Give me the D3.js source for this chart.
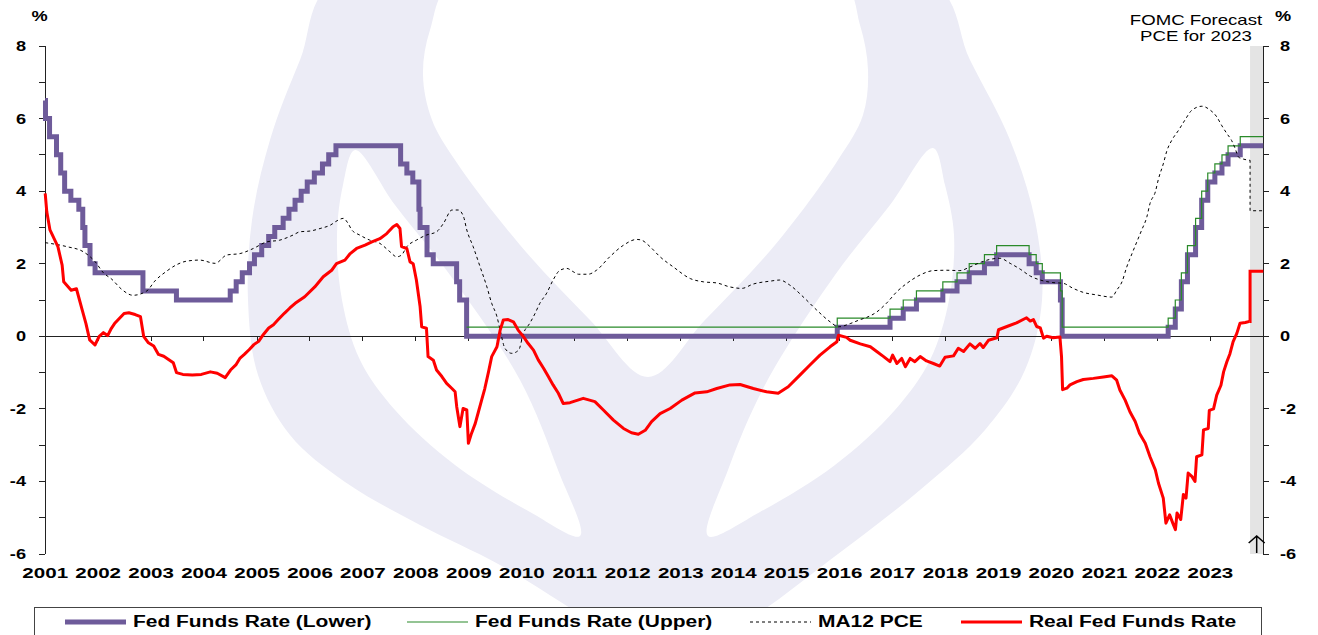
<!DOCTYPE html>
<html>
<head>
<meta charset="utf-8">
<script src="https://cdn.jsdelivr.net/npm/d3@7"></script>
<style>
  body { margin: 0; background: #fff; }
  svg { display: block; }
  text { font-family: "Liberation Sans", Arial, sans-serif; fill: #000; }
</style>
</head>
<body>
<script>
// ---- data ----
var yearLabels = d3.range(2001, 2024);
var yTickLabels = [8, 6, 4, 2, 0, -2, -4, -6];
var seriesNames = ['Fed Funds Rate (Lower)', 'Fed Funds Rate (Upper)', 'MA12 PCE', 'Real Fed Funds Rate'];

// FOMC target changes (lower bound / single target before Dec 2008)
var fedDates = ['2001-01-01','2001-01-03','2001-01-31','2001-03-20','2001-04-18','2001-05-15','2001-06-27','2001-08-21','2001-09-17','2001-10-02','2001-11-06','2001-12-11',
  '2002-11-06','2003-06-25','2004-06-30','2004-08-10','2004-09-21','2004-11-10','2004-12-14',
  '2005-02-02','2005-03-22','2005-05-03','2005-06-30','2005-08-09','2005-09-20','2005-11-01','2005-12-13',
  '2006-01-31','2006-03-28','2006-05-10','2006-06-29','2007-09-18','2007-10-31','2007-12-11',
  '2008-01-22','2008-01-30','2008-03-18','2008-04-30','2008-10-08','2008-10-29','2008-12-16',
  '2015-12-16','2016-12-14','2017-03-15','2017-06-14','2017-12-13','2018-03-21','2018-06-13','2018-09-26','2018-12-19',
  '2019-07-31','2019-09-18','2019-10-30','2020-03-03','2020-03-15',
  '2022-03-16','2022-05-04','2022-06-15','2022-07-27','2022-09-21','2022-11-02','2022-12-14',
  '2023-02-01','2023-03-22','2023-05-03','2023-07-26','2024-01-01'];
var fedLower = [6.5,6.0,5.5,5.0,4.5,4.0,3.75,3.5,3.0,2.5,2.0,1.75,
  1.25,1.0,1.25,1.5,1.75,2.0,2.25,
  2.5,2.75,3.0,3.25,3.5,3.75,4.0,4.25,
  4.5,4.75,5.0,5.25,4.75,4.5,4.25,
  3.5,3.0,2.25,2.0,1.5,1.0,0,
  0.25,0.5,0.75,1.0,1.25,1.5,1.75,2.0,2.25,
  2.0,1.75,1.5,1.0,0,
  0.25,0.75,1.5,2.25,3.0,3.75,4.25,
  4.5,4.75,5.0,5.25,5.25];

var upperDates = ['2008-12-16','2015-12-16','2016-12-14','2017-03-15','2017-06-14','2017-12-13','2018-03-21','2018-06-13','2018-09-26','2018-12-19',
  '2019-07-31','2019-09-18','2019-10-30','2020-03-03','2020-03-15',
  '2022-03-16','2022-05-04','2022-06-15','2022-07-27','2022-09-21','2022-11-02','2022-12-14',
  '2023-02-01','2023-03-22','2023-05-03','2023-07-26','2024-01-01'];
var fedUpper = [0.25,0.5,0.75,1.0,1.25,1.5,1.75,2.0,2.25,2.5,
  2.25,2.0,1.75,1.25,0.25,
  0.5,1.0,1.75,2.5,3.25,4.0,4.5,
  4.75,5.0,5.25,5.5,5.5];

// MA12 PCE, [decimal year, %]
var pce = [[2001.00,2.58],[2001.41,2.47],[2001.72,2.33],[2001.94,2.06],[2002.10,1.75],[2002.26,1.57],[2002.44,1.30],[2002.66,1.13],
  [2002.92,1.25],[2003.07,1.52],[2003.29,1.79],[2003.48,1.97],[2003.67,2.07],[2003.92,2.10],[2004.21,2.01],[2004.43,2.24],
  [2004.68,2.28],[2004.93,2.42],[2005.18,2.60],[2005.43,2.65],[2005.68,2.79],[2005.81,2.88],[2006.00,2.90],[2006.19,2.97],
  [2006.38,3.06],[2006.53,3.20],[2006.63,3.25],[2006.72,3.11],[2006.79,2.93],[2006.94,2.79],[2007.13,2.65],[2007.32,2.56],
  [2007.51,2.33],[2007.64,2.19],[2007.73,2.24],[2007.83,2.47],[2008.01,2.65],[2008.20,2.79],[2008.39,2.88],[2008.52,3.11],
  [2008.68,3.48],[2008.80,3.48],[2008.90,3.29],[2008.96,2.93],[2009.08,2.47],[2009.21,1.92],[2009.34,1.36],[2009.43,0.91],
  [2009.53,0.54],[2009.59,0.17],[2009.68,-0.33],[2009.81,-0.47],[2009.94,-0.38],[2010.03,0.08],[2010.15,0.36],[2010.25,0.63],
  [2010.34,0.91],[2010.47,1.19],[2010.59,1.55],[2010.72,1.82],[2010.85,1.87],[2010.97,1.78],[2011.07,1.71],[2011.25,1.71],
  [2011.41,1.82],[2011.66,2.19],[2011.92,2.51],[2012.17,2.67],[2012.26,2.65],[2012.42,2.47],[2012.61,2.19],[2012.86,1.91],
  [2013.18,1.59],[2013.43,1.50],[2013.68,1.47],[2013.93,1.36],[2014.15,1.32],[2014.37,1.44],[2014.69,1.52],[2014.87,1.55],
  [2015.06,1.41],[2015.31,1.09],[2015.57,0.72],[2015.82,0.40],[2015.98,0.26],[2016.20,0.35],[2016.39,0.46],[2016.51,0.52],
  [2016.70,0.67],[2016.89,0.92],[2017.08,1.23],[2017.27,1.46],[2017.52,1.69],[2017.77,1.81],[2018.02,1.82],[2018.27,1.81],
  [2018.46,1.91],[2018.65,2.03],[2018.84,2.12],[2019.03,2.15],[2019.22,2.01],[2019.41,1.85],[2019.60,1.66],[2019.79,1.55],
  [2020.03,1.48],[2020.22,1.46],[2020.41,1.32],[2020.60,1.21],[2020.85,1.14],[2021.14,1.08],[2021.23,1.27],[2021.33,1.50],
  [2021.42,1.91],[2021.52,2.28],[2021.61,2.60],[2021.70,2.92],[2021.80,3.29],[2021.86,3.66],[2021.96,3.98],[2022.02,4.34],
  [2022.11,4.75],[2022.18,5.12],[2022.27,5.40],[2022.40,5.68],[2022.52,5.96],[2022.65,6.23],[2022.84,6.34],[2023.00,6.23],
  [2023.12,6.05],[2023.21,5.82],[2023.31,5.59],[2023.40,5.40],[2023.47,5.17],[2023.53,4.94],[2023.59,4.90],[2023.74,4.85]];
var pceForecast = [[2023.75,3.46],[2024.00,3.46]];

// Real Fed Funds Rate, [decimal year, %]
var realRate = [[2001.00,3.94],[2001.03,3.43],[2001.09,2.93],[2001.24,2.47],[2001.32,1.96],[2001.35,1.50],[2001.49,1.27],[2001.59,1.31],
  [2001.70,0.72],[2001.77,0.35],[2001.84,-0.10],[2001.94,-0.24],[2002.02,0.00],[2002.10,0.10],[2002.18,0.02],[2002.25,0.22],
  [2002.31,0.35],[2002.40,0.49],[2002.49,0.63],[2002.58,0.65],[2002.70,0.60],[2002.80,0.54],[2002.86,0.00],[2002.95,-0.18],
  [2003.05,-0.27],[2003.14,-0.50],[2003.24,-0.55],[2003.33,-0.64],[2003.42,-0.73],[2003.48,-1.00],[2003.60,-1.05],[2003.78,-1.07],
  [2003.95,-1.05],[2004.12,-0.98],[2004.25,-1.02],[2004.40,-1.14],[2004.50,-0.93],[2004.60,-0.79],[2004.68,-0.60],[2004.76,-0.50],
  [2004.85,-0.37],[2004.94,-0.23],[2005.03,-0.14],[2005.12,0.05],[2005.22,0.23],[2005.31,0.32],[2005.40,0.46],[2005.52,0.64],
  [2005.62,0.78],[2005.72,0.91],[2005.90,1.09],[2006.09,1.36],[2006.25,1.64],[2006.41,1.82],[2006.50,2.00],[2006.66,2.10],
  [2006.76,2.28],[2006.88,2.42],[2007.04,2.51],[2007.17,2.60],[2007.32,2.69],[2007.45,2.83],[2007.57,3.02],[2007.64,3.08],
  [2007.70,2.97],[2007.73,2.47],[2007.83,2.42],[2007.89,2.05],[2007.95,2.00],[2008.01,1.55],[2008.08,0.82],[2008.11,0.26],
  [2008.20,0.22],[2008.23,-0.56],[2008.33,-0.66],[2008.39,-0.93],[2008.49,-1.11],[2008.58,-1.30],[2008.68,-1.44],[2008.74,-1.53],
  [2008.77,-1.94],[2008.83,-2.49],[2008.89,-1.99],[2008.96,-2.03],[2008.99,-2.95],[2009.05,-2.67],[2009.12,-2.40],[2009.18,-2.08],
  [2009.24,-1.76],[2009.30,-1.44],[2009.37,-0.98],[2009.43,-0.56],[2009.53,-0.29],[2009.59,0.17],[2009.65,0.45],[2009.74,0.46],
  [2009.84,0.40],[2009.93,0.17],[2010.03,-0.01],[2010.12,-0.20],[2010.22,-0.38],[2010.31,-0.65],[2010.41,-0.88],[2010.50,-1.11],
  [2010.59,-1.34],[2010.69,-1.57],[2010.78,-1.85],[2010.91,-1.83],[2011.16,-1.71],[2011.38,-1.80],[2011.54,-2.03],[2011.73,-2.31],
  [2011.92,-2.54],[2012.07,-2.66],[2012.20,-2.70],[2012.33,-2.59],[2012.45,-2.35],[2012.61,-2.13],[2012.80,-1.99],[2013.02,-1.76],
  [2013.27,-1.56],[2013.49,-1.53],[2013.68,-1.44],[2013.93,-1.34],[2014.12,-1.33],[2014.37,-1.44],[2014.62,-1.53],[2014.84,-1.57],
  [2015.03,-1.39],[2015.25,-1.07],[2015.44,-0.79],[2015.63,-0.52],[2015.82,-0.29],[2015.95,-0.15],[2015.98,0.03],[2016.13,-0.03],
  [2016.20,-0.11],[2016.39,-0.21],[2016.58,-0.29],[2016.70,-0.42],[2016.83,-0.56],[2016.95,-0.70],[2017.00,-0.52],[2017.08,-0.75],
  [2017.17,-0.61],[2017.24,-0.84],[2017.33,-0.61],[2017.42,-0.70],[2017.52,-0.56],[2017.64,-0.68],[2017.77,-0.75],[2017.89,-0.82],
  [2017.99,-0.58],[2018.15,-0.54],[2018.24,-0.33],[2018.34,-0.42],[2018.46,-0.21],[2018.56,-0.33],[2018.65,-0.20],[2018.71,-0.31],
  [2018.81,-0.11],[2018.97,-0.04],[2019.00,0.18],[2019.16,0.27],[2019.34,0.37],[2019.53,0.51],[2019.60,0.42],[2019.66,0.46],
  [2019.72,0.27],[2019.79,0.23],[2019.85,-0.05],[2019.91,0.00],[2020.03,-0.04],[2020.16,-0.02],[2020.19,-0.56],[2020.21,-1.47],
  [2020.29,-1.43],[2020.35,-1.34],[2020.48,-1.25],[2020.60,-1.19],[2020.79,-1.16],[2020.98,-1.12],[2021.14,-1.09],[2021.23,-1.21],
  [2021.29,-1.48],[2021.39,-1.76],[2021.48,-2.08],[2021.58,-2.35],[2021.66,-2.67],[2021.77,-2.95],[2021.86,-3.32],[2021.96,-3.68],
  [2022.02,-4.05],[2022.11,-4.46],[2022.16,-5.15],[2022.23,-4.92],[2022.29,-5.15],[2022.34,-5.33],[2022.37,-4.87],[2022.44,-5.05],
  [2022.49,-4.36],[2022.54,-4.46],[2022.58,-3.77],[2022.65,-3.86],[2022.71,-4.00],[2022.74,-3.32],[2022.84,-3.27],[2022.87,-2.58],
  [2022.96,-2.54],[2022.98,-2.04],[2023.06,-2.00],[2023.12,-1.62],[2023.20,-1.35],[2023.25,-0.98],[2023.31,-0.71],[2023.37,-0.48],
  [2023.43,-0.15],[2023.50,0.08],[2023.56,0.36],[2023.66,0.38],[2023.74,0.41]];
var realForecast = [[2023.75,1.79],[2024.00,1.79]];

var forecastStart = 2023.75;

// ---- layout ----
var width = 1318, height = 635;
var parseDate = d3.timeParse('%Y-%m-%d');

var yearToDate = function(y) {
  var yr = Math.floor(y);
  var start = new Date(yr, 0, 1), end = new Date(yr + 1, 0, 1);
  return new Date(+start + (y - yr) * (end - start));
};

var x = d3.scaleTime()
  .domain([new Date(2001, 0, 1), new Date(2024, 0, 1)])
  .range([45.2, 1263.3]);
var y = d3.scaleLinear().domain([-6, 8]).range([554, 46]);

var svg = d3.select('body').append('svg')
  .attr('width', width)
  .attr('height', height);

// stretched text, the source picture was widened
var addText = function(parent, tx, ty, str, size, weight, anchor, sx) {
  return parent.append('text')
    .attr('transform', 'translate(' + tx + ',' + ty + ') scale(' + sx + ',1)')
    .attr('text-anchor', anchor)
    .style('font-size', size + 'px')
    .style('font-weight', weight)
    .text(str);
};

// ---- watermark logo ----
var wm = svg.append('g');
var blob = d3.line().curve(d3.curveCatmullRomClosed.alpha(0.5));
wm.append('path')
  .attr('d', blob([[336,-20],[300,60],[270,140],[252,220],[248,300],[258,375],[290,435],[345,482],[420,525],[500,565],
    [590,620],[660,660],[740,625],[830,560],[920,490],[985,430],[1025,370],[1042,300],[1035,220],[1010,140],[970,60],[930,-20]]))
  .style('fill', '#ececf6');
wm.append('path')
  .attr('d', blob([[455,-20],[430,30],[423,75],[432,120],[455,160],[520,245],[590,320],[648,377],[705,320],[775,245],
    [838,160],[863,115],[868,70],[860,25],[840,-20]]))
  .style('fill', '#fff');
wm.append('path')
  .attr('d', blob([[355,150],[395,205],[450,275],[520,380],[558,470],[580,536],[530,512],[455,465],[395,410],[360,360],
    [342,300],[337,235],[343,185]]))
  .style('fill', '#fff');
wm.append('path')
  .attr('d', blob([[933,148],[945,185],[954,235],[949,300],[930,360],[895,410],[835,465],[760,512],[708,536],[728,470],
    [765,385],[835,275],[890,205]]))
  .style('fill', '#fff');

// ---- forecast band ----
svg.append('rect')
  .attr('x', x(yearToDate(forecastStart)))
  .attr('y', y(8))
  .attr('width', x(new Date(2024, 0, 1)) - x(yearToDate(forecastStart)))
  .attr('height', y(-6) - y(8))
  .style('fill', '#e4e4e4');

// ---- axes ----
var x0 = x.range()[0], x1 = x.range()[1];
var axes = svg.append('g').style('stroke', '#222').style('stroke-width', 1).style('shape-rendering', 'crispEdges');
axes.append('line').attr('x1', x0).attr('x2', x0).attr('y1', y(8)).attr('y2', y(-6));
axes.append('line').attr('x1', x1).attr('x2', x1).attr('y1', y(8)).attr('y2', y(-6));
axes.append('line').attr('x1', x0).attr('x2', x1).attr('y1', y(0)).attr('y2', y(0));
d3.range(-6, 9).forEach(function(v) {
  axes.append('line').attr('x1', x0 - 6).attr('x2', x0).attr('y1', y(v)).attr('y2', y(v));
  axes.append('line').attr('x1', x1).attr('x2', x1 + 6).attr('y1', y(v)).attr('y2', y(v));
});
yearLabels.forEach(function(yr) {
  var px = x(new Date(yr, 0, 1));
  axes.append('line').attr('x1', px).attr('x2', px).attr('y1', y(0)).attr('y2', y(0) + 5);
});

yTickLabels.forEach(function(v) {
  addText(svg, 26, y(v) + 5, v, 14, 'bold', 'end', 1.3);
  addText(svg, 1280, y(v) + 5, v, 14, 'bold', 'start', 1.3);
});
addText(svg, 39.5, 21, '%', 14, 'bold', 'middle', 1.3);
addText(svg, 1283, 21, '%', 14, 'bold', 'middle', 1.3);
yearLabels.forEach(function(yr) {
  addText(svg, x(new Date(yr, 0, 1)), 578, yr, 15, 'bold', 'middle', 1.37);
});
addText(svg, 1196, 25, 'FOMC Forecast', 14, 'normal', 'middle', 1.33);
addText(svg, 1196, 40.5, 'PCE for 2023', 14, 'normal', 'middle', 1.33);

// ---- series ----
var stepLine = d3.line()
  .x(function(d) { return x(d[0]); })
  .y(function(d) { return y(d[1]); })
  .curve(d3.curveStepAfter);
var yearLine = d3.line()
  .x(function(d) { return x(yearToDate(d[0])); })
  .y(function(d) { return y(d[1]); });

var lowerData = fedDates.map(function(d, i) { return [parseDate(d), fedLower[i]]; });
var upperData = upperDates.map(function(d, i) { return [parseDate(d), fedUpper[i]]; });

svg.append('path')
  .attr('d', stepLine(lowerData))
  .style('fill', 'none')
  .style('stroke', '#6e5b9a')
  .style('stroke-width', 5);

svg.append('path')
  .attr('d', stepLine(upperData))
  .style('fill', 'none')
  .style('stroke', '#2a8a2a')
  .style('stroke-width', 1.2);

svg.append('path')
  .attr('d', yearLine.curve(d3.curveMonotoneX)(pce))
  .style('fill', 'none')
  .style('stroke', '#000')
  .style('stroke-width', 1)
  .style('stroke-dasharray', '3,3');
svg.append('path')
  .attr('d', yearLine.curve(d3.curveStepAfter)([pce[pce.length - 1]].concat(pceForecast)))
  .style('fill', 'none')
  .style('stroke', '#000')
  .style('stroke-width', 1)
  .style('stroke-dasharray', '3,3');

svg.append('path')
  .attr('d', yearLine.curve(d3.curveLinear)(realRate))
  .style('fill', 'none')
  .style('stroke', '#ff0000')
  .style('stroke-width', 3)
  .style('stroke-linejoin', 'round');
svg.append('path')
  .attr('d', yearLine.curve(d3.curveStepAfter)([realRate[realRate.length - 1]].concat(realForecast)))
  .style('fill', 'none')
  .style('stroke', '#ff0000')
  .style('stroke-width', 3);

// arrow under the forecast band
var ax = (x(yearToDate(forecastStart)) + x1) / 2;
svg.append('path')
  .attr('d', 'M' + ax + ',' + (y(-6) - 1) + 'V' + (y(-6) - 18) + 'M' + (ax - 8) + ',' + (y(-6) - 11) + 'L' + ax + ',' + (y(-6) - 18) + 'L' + (ax + 8) + ',' + (y(-6) - 11))
  .style('fill', 'none')
  .style('stroke', '#000')
  .style('stroke-width', 1.5);

// ---- legend ----
var legend = svg.append('g');
legend.append('rect')
  .attr('x', 34.5).attr('y', 607.5)
  .attr('width', 1227).attr('height', 40)
  .style('fill', '#fff')
  .style('stroke', '#444');
var legendX = [65, 407, 750, 961];
var legendStyles = [
  {stroke: '#6e5b9a', width: 5, dash: null},
  {stroke: '#2a8a2a', width: 1.2, dash: null},
  {stroke: '#000', width: 1, dash: '3,3'},
  {stroke: '#ff0000', width: 3, dash: null}
];
seriesNames.forEach(function(name, i) {
  legend.append('line')
    .attr('x1', legendX[i]).attr('x2', legendX[i] + 61)
    .attr('y1', 622).attr('y2', 622)
    .style('stroke', legendStyles[i].stroke)
    .style('stroke-width', legendStyles[i].width)
    .style('stroke-dasharray', legendStyles[i].dash);
  addText(legend, legendX[i] + 68, 627, name, 16, 'bold', 'start', 1.31);
});
</script>
</body>
</html>
